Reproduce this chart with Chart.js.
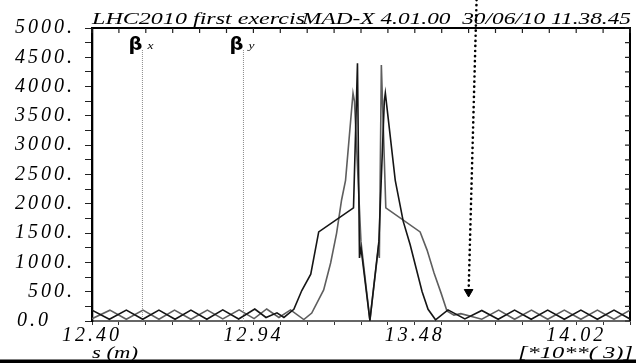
<!DOCTYPE html>
<html>
<head>
<meta charset="utf-8">
<script src="https://cdn.jsdelivr.net/npm/chart.js@4.4.0/dist/chart.umd.min.js"></script>
<style>
  html, body { margin: 0; padding: 0; background: #fff; }
  #chart { display: block; }
</style>
</head>
<body>
<canvas id="chart" width="636" height="363"></canvas>
<script>
// beta functions around the insertion, s in units of 10**3 m
const sBetx = [12.4000, 12.4582, 12.5148, 12.5697, 12.6239, 12.6778, 12.7310, 12.7842, 12.8375, 12.8907,
               12.9446, 12.9822, 13.0188, 13.0421, 13.0753, 13.1019, 13.1319, 13.1585, 13.2749, 13.2882,
               13.2949, 13.2999, 13.3298, 13.3597, 13.3780, 13.3814, 13.4146, 13.4413, 13.4645, 13.4845,
               13.5045, 13.5244, 13.5494, 13.5910, 13.6475, 13.7041, 13.7590, 13.8138, 13.8694, 13.9246,
               13.9802, 14.0357, 14.0909, 14.1465, 14.2000];
const betx = [185, 30, 185, 30, 185, 30, 185, 30, 190, 35,
              205, 60, 140, 60, 200, 520, 800, 1520, 1930, 4400,
              1075, 1250, 10, 1350, 3750, 3890, 2400, 1700, 1300, 900,
              500, 200, 20, 190, 35, 180, 30, 185, 30, 185,
              30, 185, 30, 185, 35];

const sBety = [12.4000, 12.4599, 12.5148, 12.5707, 12.6239, 12.6761, 12.7310, 12.7859, 12.8375, 12.8923,
               12.9423, 12.9845, 13.0254, 13.0643, 13.1086, 13.1352, 13.1751, 13.1984, 13.2184, 13.2350,
               13.2483, 13.2733, 13.2782, 13.2999, 13.3298, 13.3581, 13.3614, 13.3681, 13.3830, 13.4978,
               13.5211, 13.5444, 13.5677, 13.5876, 13.6109, 13.6342, 13.7041, 13.7606, 13.8138, 13.8704,
               13.9246, 13.9802, 14.0357, 14.0909, 14.1465, 14.2000];
const bety = [40, 185, 30, 185, 30, 185, 30, 185, 35, 190,
              40, 205, 60, 190, 25, 135, 530, 990, 1500, 2065,
              2400, 3890, 3750, 1350, 10, 1250, 1075, 4370, 1930, 1520,
              1210, 820, 480, 170, 100, 125, 30, 185, 30, 185,
              30, 185, 30, 185, 30, 185];

// label markers (beta x, beta y)
const markerS = [12.5687, 12.9067];
const markerTop = [4625, 4625];
const markerSub = ["x", "y"];

// hand drawn arrow
const arrowS = [13.6867, 13.6600];
const arrowY = [5478, 495];

const yTickValues = [0, 500, 1000, 1500, 2000, 2500, 3000, 3500, 4000, 4500, 5000];
const yTickLabels = ["0.0", "500.", "1000.", "1500.", "2000.", "2500.", "3000.", "3500.", "4000.", "4500.", "5000."];
const xTickValues = [12.40, 12.94, 13.48, 14.02];
const xTickLabels = ["12.40", "12.94", "13.48", "14.02"];

const titleLeft = "LHC2010 first exercis";
const titleRight = "MAD-X 4.01.00  30/06/10 11.38.45";
const xTitle = "s (m)";
const xNote = "[*10**( 3)]";

const serif = '"Liberation Serif", "Times New Roman", serif';
const tickFont = { family: serif, style: "italic", size: 20 };

function toPoints(xs, ys) {
    return xs.map((x, i) => ({ x: x, y: ys[i] }));
}

// draw text stretched to a given width, like the old plotter fonts
function wideText(ctx, txt, x, y, w, font) {
    ctx.save();
    ctx.font = font;
    const m = ctx.measureText(txt).width;
    ctx.translate(x, y);
    ctx.scale(w / m, 1);
    ctx.fillText(txt, 0, 0);
    ctx.restore();
}

const framePlugin = {
    id: "frame",
    beforeDraw(chart) {
        chart.ctx.letterSpacing = "3px";
    },
    beforeDatasetsDraw(chart) {
        const ctx = chart.ctx;
        const a = chart.chartArea;
        const xs = chart.scales.x;
        const ys = chart.scales.y;
        ctx.letterSpacing = "0px";

        ctx.save();
        ctx.strokeStyle = "#000";
        ctx.lineWidth = 2;
        ctx.beginPath();
        ctx.moveTo(a.left, a.top);
        ctx.lineTo(a.right, a.top);
        ctx.lineTo(a.right, a.bottom);
        ctx.stroke();

        ctx.lineWidth = 1.2;
        ctx.strokeStyle = "#222";
        ctx.beginPath();
        xs.ticks.forEach(t => {
            const px = xs.getPixelForValue(t.value);
            ctx.moveTo(px, a.top);
            ctx.lineTo(px, a.top + 5);
        });
        ys.ticks.forEach(t => {
            const py = ys.getPixelForValue(t.value);
            ctx.moveTo(a.right, py);
            ctx.lineTo(a.right - 5, py);
        });
        ctx.stroke();

        ctx.fillStyle = "#000";
        ctx.textBaseline = "alphabetic";
        wideText(ctx, titleLeft, 92, 24, 213, "italic 16px " + serif);
        wideText(ctx, titleRight, 302, 24, 329, "italic 16px " + serif);
        wideText(ctx, xTitle, 92, 358, 46, "italic 16px " + serif);
        wideText(ctx, xNote, 518, 358, 115, "italic 16px " + serif);

        // beta labels next to their markers
        markerS.forEach((s, i) => {
            const px = xs.getPixelForValue(s);
            wideText(ctx, "\u03b2", px - 14, 49.5, 14, "bold 17px \"DejaVu Sans\", sans-serif");
            wideText(ctx, markerSub[i], px + 5, 49, 6, "italic 10px " + serif);
        });

        ctx.fillRect(0, 359.5, 636, 3.5);
        ctx.restore();
    }
};

new Chart(document.getElementById("chart"), {
    type: "line",
    data: {
        datasets: [
            {
                label: "arrow",
                data: toPoints(arrowS, arrowY),
                borderColor: "#000",
                borderWidth: 2.6,
                borderDash: [0.1, 5],
                borderCapStyle: "round",
                pointRadius: [0, 5],
                pointStyle: "triangle",
                pointRotation: 180,
                pointBackgroundColor: "#000",
                pointBorderColor: "#000",
                pointBorderWidth: 1,
                clip: false
            },
            {
                label: "betx",
                data: toPoints(sBetx, betx),
                borderColor: "#151515",
                borderWidth: 1.6,
                pointRadius: 0
            },
            {
                label: "bety",
                data: toPoints(sBety, bety),
                borderColor: "#5e5e5e",
                borderWidth: 1.6,
                pointRadius: 0
            },
            {
                label: "mark x",
                data: [{ x: markerS[0], y: 0 }, { x: markerS[0], y: markerTop[0] }],
                borderColor: "#8a8a8a",
                borderWidth: 1,
                borderDash: [1, 1],
                pointRadius: 0
            },
            {
                label: "mark y",
                data: [{ x: markerS[1], y: 0 }, { x: markerS[1], y: markerTop[1] }],
                borderColor: "#8a8a8a",
                borderWidth: 1,
                borderDash: [1, 1],
                pointRadius: 0
            }
        ]
    },
    options: {
        responsive: false,
        animation: false,
        devicePixelRatio: 1,
        layout: { padding: { top: 28, right: 3, left: 0, bottom: 0 } },
        elements: { line: { tension: 0 } },
        plugins: {
            legend: { display: false },
            tooltip: { enabled: false }
        },
        scales: {
            x: {
                type: "linear",
                min: 12.40,
                max: 14.20,
                afterBuildTicks(scale) {
                    const t = [];
                    for (let i = 0; i <= 20; i++) t.push({ value: +(12.40 + i * 0.09).toFixed(2) });
                    scale.ticks = t;
                },
                afterFit(scale) { scale.height = 42; },
                border: { color: "#666", width: 2 },
                grid: { drawOnChartArea: false, tickLength: 4, color: "#333" },
                ticks: {
                    autoSkip: false,
                    maxRotation: 0,
                    padding: -1,
                    color: "#000",
                    font: tickFont,
                    callback(v) {
                        const i = xTickValues.findIndex(x => Math.abs(x - v) < 1e-6);
                        return i < 0 ? "" : xTickLabels[i];
                    }
                }
            },
            y: {
                min: 0,
                max: 5000,
                afterFit(scale) { scale.width = 92; },
                border: { color: "#000", width: 2.3 },
                grid: { drawOnChartArea: false, tickLength: 7, color: "#222" },
                ticks: {
                    stepSize: 250,
                    autoSkip: false,
                    padding: 10,
                    color: "#000",
                    font: tickFont,
                    callback(v) {
                        const i = yTickValues.indexOf(v);
                        if (i < 0) return "";
                        return v === 0 ? yTickLabels[i] + "   " : yTickLabels[i];
                    }
                }
            }
        }
    },
    plugins: [framePlugin]
});
</script>
</body>
</html>
